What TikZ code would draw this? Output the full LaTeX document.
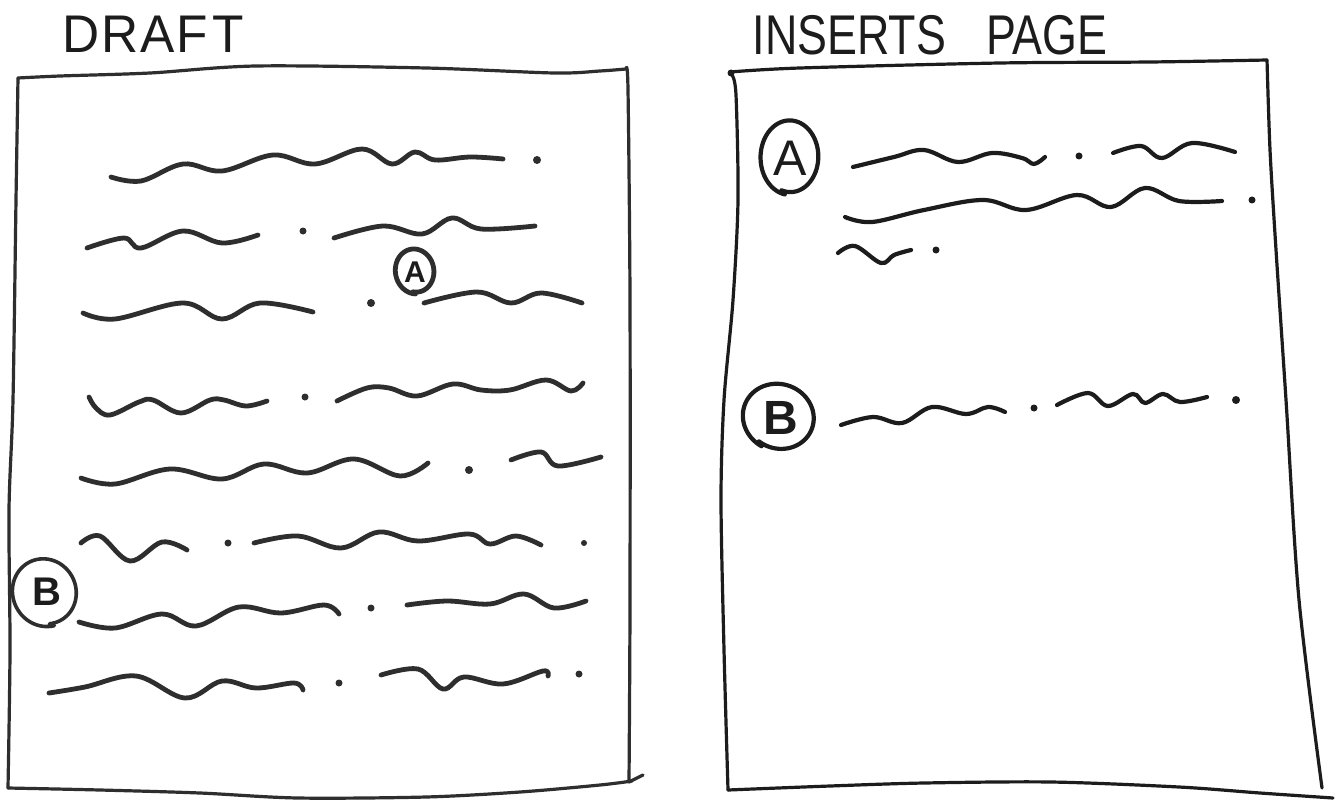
\documentclass[tikz,border=0pt]{standalone}
\usepackage{fontspec}
\setmainfont{Liberation Sans}
\definecolor{pencilc}{HTML}{2E2E2E}
\definecolor{inkc}{HTML}{1C1C1C}
\tikzset{
  pencil/.style={draw=pencilc, line width=2.4pt, line cap=round, line join=round},
  ink/.style={draw=inkc, line width=2.1pt, line cap=round, line join=round},
  frame/.style={draw=inkc, line width=1.6pt, line cap=round, line join=round},
  title/.style={inner sep=0pt, text=inkc},
  letter/.style={inner sep=0pt, text=inkc},
}
\newcommand{\handoval}[6]{%
  \draw[#1, rotate around={#6:(#2,#3)}] plot[domain=100:468, samples=72, smooth]
    ({#2+#4*(1-0.08*(\x-100)/368)*cos(\x)}, {#3+#5*(1-0.08*(\x-100)/368)*sin(\x)});}
\begin{document}
\begin{tikzpicture}[x=0.5pt,y=-0.5pt]
\useasboundingbox (0,0) rectangle (1336,802);
\fill[white] (0,0) rectangle (1336,802);

% ---------- titles ----------
\node[title, font=\fontsize{26.5}{30}\selectfont] (draft) at (153,34) {\scalebox{0.97}[1]{D\hspace{1pt}R\hspace{1pt}A\hspace{1pt}F\hspace{2pt}T}};
\node[title, font=\fontsize{28}{32}\selectfont] (inserts) at (930,35) {\scalebox{0.8}[1]{INSERTS\hspace{25pt}PAGE}};

% ---------- left page (draft) ----------
\draw[frame, draw=pencilc] plot[smooth, tension=0.5] coordinates {(18,78) (60,76) (150,73) (256,66) (426,68) (554,73) (600,71) (626,69)};
\draw[frame, draw=pencilc] plot[smooth, tension=0.5] coordinates {(626,69) (628,90) (630,300) (630,600) (629,782)};
\draw[frame, draw=pencilc] (629,782) -- (643,775);
\draw[frame, draw=pencilc] plot[smooth, tension=0.5] coordinates {(8,788) (100,790) (200,793) (298,798) (426,797) (520,792) (600,785) (632,781)};
\draw[frame, draw=pencilc] plot[smooth, tension=0.5] coordinates {(18,78) (16,200) (13,400) (9,510) (10,650) (8,788)};

% line 1
\draw[pencil] plot[smooth, tension=0.6] coordinates {(111,177) (141,181) (183,164) (222,171) (273,155) (315,164) (362,149) (392,164) (415,152) (435,160) (470,157) (503,159)};
\fill[pencilc] (537,160) circle[radius=4];
% line 2
\draw[pencil] plot[smooth, tension=0.6] coordinates {(87,248) (124,238) (141,248) (183,231) (222,243) (258,235)};
\fill[pencilc] (303,231) circle[radius=3.5];
\draw[pencil] plot[smooth, tension=0.6] coordinates {(334,238) (383,226) (422,234) (452,218) (481,229) (535,226)};
% line 3
\draw[pencil] plot[smooth, tension=0.6] coordinates {(83,313) (115,319) (183,303) (222,319) (260,303) (313,312)};
\fill[pencilc] (371,303) circle[radius=4];
\draw[pencil] plot[smooth, tension=0.6] coordinates {(424,303) (477,292) (511,303) (541,293) (582,303)};
% line 4
\draw[pencil] plot[smooth, tension=0.6] coordinates {(89,397) (96,408) (110,415) (139,402) (153,400) (181,413) (210,400) (224,400) (246,406) (267,401)};
\fill[pencilc] (305,397) circle[radius=3.5];
\draw[pencil] plot[smooth, tension=0.6] coordinates {(337,401) (367,388) (389,388) (417,396) (453,384) (481,390) (510,390) (546,380) (571,391) (583,383)};
% line 5
\draw[pencil] plot[smooth, tension=0.6] coordinates {(81,478) (115,484) (170,469) (222,479) (264,464) (307,473) (354,459) (400,476) (428,463)};
\fill[pencilc] (469,470) circle[radius=4];
\draw[pencil] plot[smooth, tension=0.6] coordinates {(511,460) (541,452) (558,466) (601,457)};
% line 6
\draw[pencil] plot[smooth, tension=0.6] coordinates {(81,543) (100,536) (130,561) (162,542) (187,550)};
\fill[pencilc] (228,543) circle[radius=3.5];
\draw[pencil] plot[smooth, tension=0.6] coordinates {(254,543) (298,536) (341,548) (379,532) (418,541) (469,534) (490,544) (516,536) (541,545)};
\fill[pencilc] (584,543) circle[radius=3];
% line 7
\draw[pencil] plot[smooth, tension=0.6] coordinates {(79,622) (115,628) (162,614) (196,626) (239,607) (281,613) (324,605) (339,614)};
\fill[pencilc] (371,608) circle[radius=3.5];
\draw[pencil] plot[smooth, tension=0.6] coordinates {(407,605) (447,601) (490,604) (524,594) (554,608) (586,601)};
% line 8
\draw[pencil] plot[smooth, tension=0.6] coordinates {(49,693) (85,687) (136,676) (185,698) (222,681) (256,688) (294,683) (303,690)};
\fill[pencilc] (339,683) circle[radius=3.5];
\draw[pencil] plot[smooth, tension=0.6] coordinates {(381,675) (418,669) (443,689) (464,677) (503,684) (543,671) (548,676)};
\fill[pencilc] (579,674) circle[radius=3.5];

% circled letters on the draft
\node[letter, font=\bfseries\fontsize{15}{16}\selectfont] (la) at (415,272) {A};
\handoval{pencil}{415}{271}{20}{23}{10}
\node[letter, font=\bfseries\fontsize{20}{22}\selectfont] (lb) at (47,592) {B};
\handoval{pencil, line width=1.8pt}{45}{592}{33}{35}{25}

% ---------- right page (inserts) ----------
\draw[frame] plot[smooth, tension=0.5] coordinates {(730,72) (800,68) (1000,63) (1150,62) (1267,60)};
\fill[inkc] (731,73) circle[radius=3.5];
\draw[frame] plot[smooth, tension=0.5] coordinates {(732,75) (736,95) (738,200) (733,300) (724,400) (721,500) (724,650) (728,790)};
\draw[frame] plot[smooth, tension=0.5] coordinates {(1267,60) (1270,150) (1276,250) (1286,400) (1299,600) (1322,788)};
\draw[frame] plot[smooth, tension=0.5] coordinates {(728,790) (830,786) (924,783) (1051,782) (1179,787) (1260,793) (1333,798)};

% insert A
\node[letter, font=\fontsize{25}{28}\selectfont] (ra) at (790,158) {A};
\handoval{ink}{790}{157}{30}{38}{0}
\draw[ink] plot[smooth, tension=0.6] coordinates {(853,167) (894,157) (924,150) (958,162) (992,153) (1022,158) (1034,164) (1045,157)};
\fill[inkc] (1079,156) circle[radius=3.5];
\draw[ink] plot[smooth, tension=0.6] coordinates {(1113,153) (1141,146) (1162,158) (1192,143) (1235,152)};
\draw[ink] plot[smooth, tension=0.6] coordinates {(845,217) (872,222) (924,210) (983,200) (1026,210) (1077,195) (1111,207) (1145,188) (1179,201) (1222,201)};
\fill[inkc] (1252,200) circle[radius=3.5];
\draw[ink] plot[smooth, tension=0.6] coordinates {(838,253) (855,246) (881,263) (894,255) (911,250)};
\fill[inkc] (936,250) circle[radius=3.5];

% insert B
\node[letter, font=\bfseries\fontsize{24}{26}\selectfont] (rb) at (781,418) {B};
\handoval{ink}{779}{417}{37}{34}{-20}
\draw[ink] plot[smooth, tension=0.6] coordinates {(841,425) (873,417) (902,423) (932,407) (966,414) (988,407) (1005,412)};
\fill[inkc] (1034,408) circle[radius=3.5];
\draw[ink] plot[smooth, tension=0.6] coordinates {(1057,405) (1088,393) (1108,406) (1133,394) (1145,403) (1163,394) (1180,402) (1207,397)};
\fill[inkc] (1236,400) circle[radius=4];
\end{tikzpicture}
\end{document}
